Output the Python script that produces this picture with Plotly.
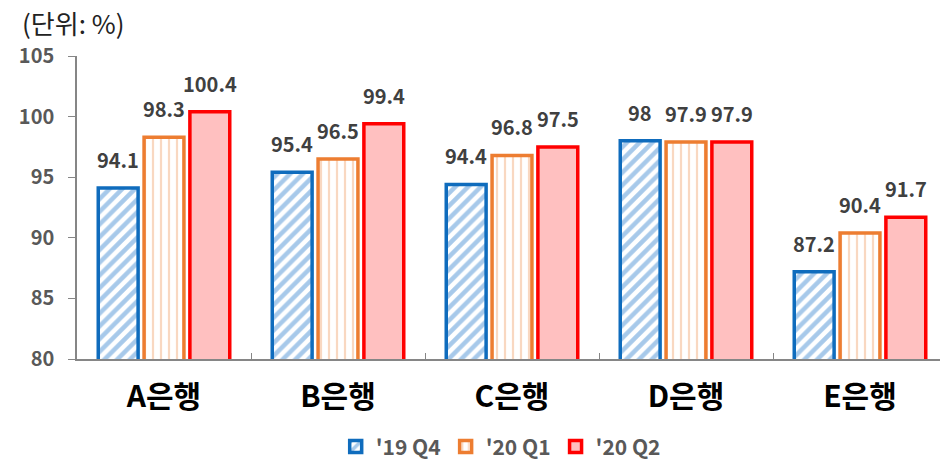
import plotly.graph_objects as go

# data
banks = ["A은행", "B은행", "C은행", "D은행", "E은행"]
q4_19 = [94.1, 95.4, 94.4, 98, 87.2]
q1_20 = [98.3, 96.5, 96.8, 97.9, 90.4]
q2_20 = [100.4, 99.4, 97.5, 97.9, 91.7]
series_names = ["'19 Q4", "'20 Q1", "'20 Q2"]

font_kr = "Noto Sans CJK KR"

fig = go.Figure()

# '19 Q4 - blue diagonal hatch
fig.add_trace(go.Bar(
    x=banks, y=q4_19, name=series_names[0],
    marker=dict(color="white", line=dict(color="#0F6CBD", width=3.5),
                pattern=dict(shape="/", fgcolor="#4F93D6", bgcolor="white",
                             size=9, solidity=0.5)),
))

# '20 Q1 - orange vertical hatch
fig.add_trace(go.Bar(
    x=banks, y=q1_20, name=series_names[1],
    marker=dict(color="white", line=dict(color="#ED7D31", width=3.5),
                pattern=dict(shape="|", fgcolor="#F4B183", bgcolor="white",
                             size=8, solidity=0.28)),
))

# '20 Q2 - pink fill, red border
fig.add_trace(go.Bar(
    x=banks, y=q2_20, name=series_names[2],
    marker=dict(color="#FFC0C0", line=dict(color="#FF0000", width=3.5)),
))

# value labels, lifted a bit above each bar
slot = 46  # px between neighbouring bars of one group
for k, vals in enumerate([q4_19, q1_20, q2_20]):
    for bank, v in zip(banks, vals):
        fig.add_annotation(
            x=bank, y=v, text=f"{v:g}", showarrow=False,
            xshift=(k - 1) * slot, yshift=12, yanchor="bottom",
            font=dict(family=font_kr, size=20, color="#404040", weight="bold"),
        )

# page body adds 8px margin, so the figure is a bit smaller than the window
fig.update_layout(
    width=940, height=453,
    margin=dict(l=69, r=1, t=48, b=102, autoexpand=False),
    plot_bgcolor="white", paper_bgcolor="white",
    barmode="group", bargap=0.21, bargroupgap=0.13,
    font=dict(family=font_kr),
    legend=dict(orientation="h", x=0.487, xanchor="center", y=-0.29, yanchor="middle",
                font=dict(size=21, color="#595959", weight="bold")),
)
fig.add_annotation(
    text="(단위: %)", xref="paper", yref="paper",
    x=-0.066, y=1.112, xanchor="left", yanchor="middle", showarrow=False,
    font=dict(size=26, color="#222222"),
)

fig.update_yaxes(
    range=[80, 105], dtick=5, showgrid=False,
    showline=True, linecolor="#868686", linewidth=1.5,
    ticks="outside", ticklen=7, tickcolor="#868686",
    ticklabelstandoff=10,
    tickfont=dict(size=20, color="#595959", weight="bold"),
)
fig.update_xaxes(
    showline=True, linecolor="#868686", linewidth=1.5,
    ticks="inside", tickson="boundaries", ticklen=6, tickcolor="#868686",
    ticklabelstandoff=10,
    tickfont=dict(size=30, color="#000000", weight="bold"),
)

fig.write_html("out.html")
